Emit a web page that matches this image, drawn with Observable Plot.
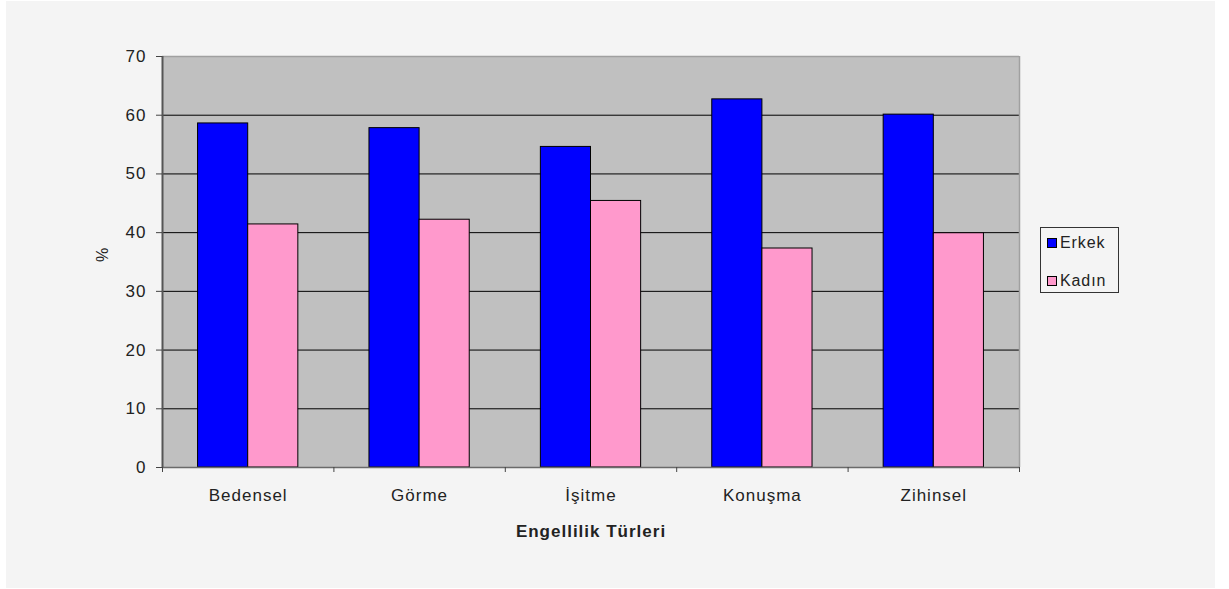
<!DOCTYPE html>
<html>
<head>
<meta charset="utf-8">
<script src="https://cdn.jsdelivr.net/npm/d3@7"></script>
<script src="https://cdn.jsdelivr.net/npm/@observablehq/plot@0.6"></script>
<style>
  body { margin: 0; background: #ffffff; font-family: Arial, "Liberation Sans", sans-serif; }
  #bg { position: absolute; left: 6px; top: 1px; width: 1209px; height: 587px; background: #f4f4f4; }
  #chart { position: absolute; left: 0; top: 0; }
  #legend { position: absolute; left: 1040px; top: 227px; width: 79px; height: 66px; border: 1.5px solid #333;
            box-sizing: border-box; padding-top: 0; }
  .item { display: flex; align-items: center; height: 38px; margin-left: 6px; font-size: 16px; color: #222; letter-spacing: 0.9px; }
  .item:first-child { margin-top: -4px; }
  .sw { width: 8px; height: 8px; border: 1px solid #000; margin-right: 3px; }
</style>
</head>
<body>
<div id="bg"></div>
<div id="chart"></div>
<div id="legend"></div>
<script>
const categories = ["Bedensel", "Görme", "İşitme", "Konuşma", "Zihinsel"];
const series = ["Erkek", "Kadın"];
const erkek = [58.6, 57.8, 54.6, 62.7, 60.1];
const kadin = [41.4, 42.2, 45.4, 37.3, 39.9];
const yTicks = [0, 10, 20, 30, 40, 50, 60, 70];
const colors = ["#0000ff", "#ff99cc"];
const xTitle = "Engellilik Türleri";
const yTitle = "%";

const groupWidth = 0.585;
const barW = groupWidth / series.length;
const side = (1 - groupWidth) / 2;
const values = [erkek, kadin];
const data = categories.flatMap((c, i) => series.map((s, j) => ({
  category: c, sex: s, value: values[j][i],
  x1: i + side + j * barW, x2: i + side + (j + 1) * barW
})));
const boundaries = d3.range(categories.length + 1);
const centers = categories.map((c, i) => i + 0.5);

const plot = Plot.plot({
  width: 1229, height: 589,
  marginLeft: 162, marginRight: 210, marginTop: 56, marginBottom: 122,
  style: { background: "transparent", fontFamily: "Arial, 'Liberation Sans', sans-serif", fontSize: "17px", letterSpacing: "1px", color: "#222" },
  x: { domain: [0, categories.length], axis: null, label: null },
  y: { domain: [0, 70], axis: null, label: null },
  color: { domain: series, range: colors },
  marks: [
    Plot.frame({ fill: "#c0c0c0", stroke: null }),
    Plot.ruleY(yTicks.filter(d => d > 0 && d < 70), { stroke: "#000" }),
    Plot.rect(data, { x1: "x1", x2: "x2", y1: 0, y2: "value", fill: "sex", stroke: "#000", strokeWidth: 1 }),
    Plot.ruleY([70], { stroke: "#a0a0a0", strokeWidth: 1.5 }),
    Plot.ruleX([categories.length], { stroke: "#a0a0a0", strokeWidth: 1.5 }),
    Plot.ruleY([0], { stroke: "#6a6a6a", strokeWidth: 1.5 }),
    Plot.ruleX([0], { stroke: "#555", strokeWidth: 2 }),
    Plot.axisY(yTicks, { tickSize: 6, tickPadding: 10, stroke: "#444", label: null }),
    Plot.axisX(boundaries, { tickSize: 5, tickFormat: () => "", stroke: "#444", label: null }),
    Plot.axisX(centers, { tickSize: 0, tickPadding: 21, label: null, tickFormat: d => categories[Math.floor(d)] }),
    Plot.text([xTitle], { frameAnchor: "bottom", dy: 69, fontWeight: "bold", fontSize: 17, style: "letter-spacing:2px" }),
    Plot.text([yTitle], { frameAnchor: "left", dx: -60, rotate: -90, fontSize: 16 })
  ]
});
document.getElementById("chart").appendChild(plot);

const legend = document.getElementById("legend");
series.forEach((s, i) => {
  const item = document.createElement("div");
  item.className = "item";
  const sw = document.createElement("div");
  sw.className = "sw";
  sw.style.background = colors[i];
  item.appendChild(sw);
  item.appendChild(document.createTextNode(s));
  legend.appendChild(item);
});
</script>
</body>
</html>
